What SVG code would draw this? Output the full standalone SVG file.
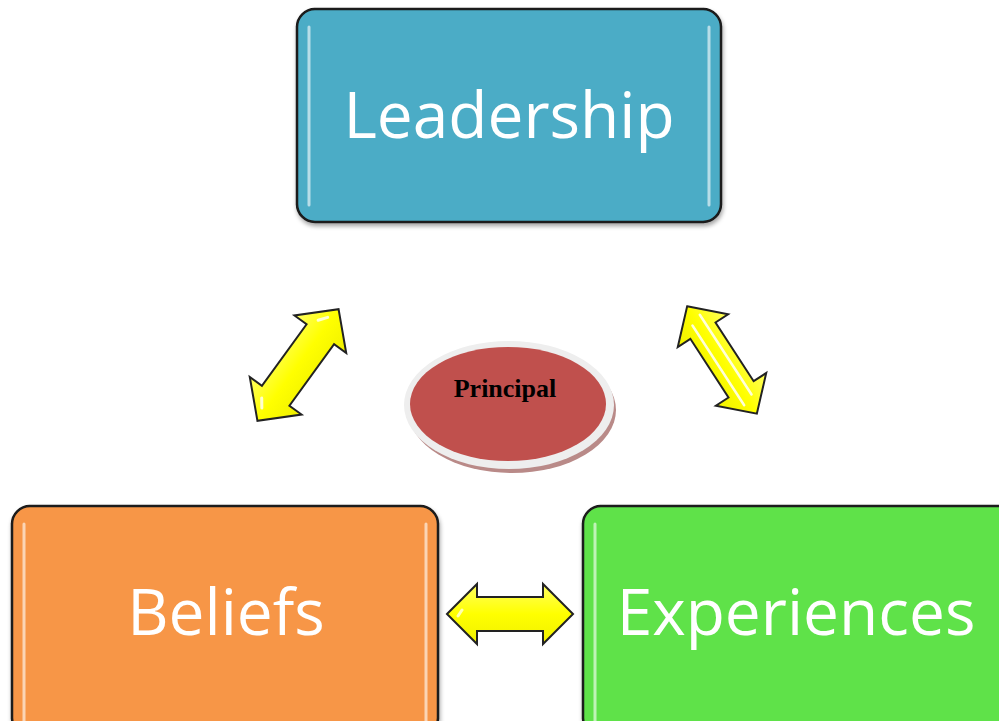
<svg xmlns="http://www.w3.org/2000/svg" width="999" height="721" viewBox="0 0 999 721">
<defs>
<style>
.box{stroke:#1a1a1a;stroke-width:2.5}
.lbl{font-family:"Open Sans","Liberation Sans",sans-serif;fill:#fff;font-size:64px;text-anchor:middle}
.arr{fill:url(#yg);stroke:#222;stroke-width:2;stroke-linejoin:miter}
.hl{stroke:#fff;stroke-width:3;stroke-linecap:round;opacity:0.6}
</style>
<linearGradient id="yg" x1="0" y1="0" x2="0" y2="1">
<stop offset="0" stop-color="#ffff60"/>
<stop offset="0.5" stop-color="#ffff00"/>
<stop offset="1" stop-color="#f0f000"/>
</linearGradient>
<filter id="sh" x="-10%" y="-10%" width="120%" height="130%">
<feDropShadow dx="1" dy="3" stdDeviation="2" flood-color="#000" flood-opacity="0.35"/>
</filter>
</defs>
<rect width="999" height="721" fill="#fff"/>
<g id="leadership">
<rect class="box" x="297" y="9" width="424" height="213" rx="18" fill="#4bacc6" filter="url(#sh)"/>
<line class="hl" x1="309" y1="27" x2="309" y2="205"/>
<line class="hl" x1="709" y1="27" x2="709" y2="205"/>
<text class="lbl" x="509" y="138">Leadership</text>
</g>
<g id="beliefs">
<rect class="box" x="12" y="506" width="426" height="230" rx="18" fill="#f79646" filter="url(#sh)"/>
<line class="hl" x1="24" y1="524" x2="24" y2="721"/>
<line class="hl" x1="426" y1="524" x2="426" y2="721"/>
<text class="lbl" x="226" y="635">Beliefs</text>
</g>
<g id="experiences">
<rect class="box" x="583" y="506" width="440" height="230" rx="18" fill="#5ee24a" filter="url(#sh)"/>
<line class="hl" x1="595" y1="524" x2="595" y2="721"/>
<text class="lbl" x="796" y="635">Experiences</text>
</g>
<g id="principal">
<ellipse cx="512" cy="410" rx="104" ry="63" fill="#b98a88"/>
<ellipse cx="509" cy="405" rx="105" ry="64" fill="#eeeeee"/>
<ellipse cx="508" cy="404" rx="98" ry="57" fill="#c0504d"/>
<text x="505" y="397" font-family="Liberation Serif,serif" font-weight="bold" font-size="26" text-anchor="middle" fill="#000">Principal</text>
</g>
<g id="connectors">
<g transform="translate(298,365) rotate(-54)">
<path class="arr" d="M-69,0 L-38,-32 L-38,-17 L38,-17 L38,-32 L69,0 L38,32 L38,17 L-38,17 L-38,32 Z"/>
<path d="M-56,-4 L-48,-10" stroke="#fff" stroke-width="3" stroke-linecap="round" opacity="0.8"/>
<path d="M48,-10 L56,-4" stroke="#fff" stroke-width="3" stroke-linecap="round" opacity="0.8"/>
</g>
<g transform="translate(722,360) rotate(57)">
<path class="arr" d="M-64,0 L-35,-30 L-35,-15 L35,-15 L35,-30 L64,0 L35,30 L35,15 L-35,15 L-35,30 Z"/>
<line x1="-50" y1="-6" x2="45" y2="-6" stroke="#fff" stroke-width="2.5" stroke-linecap="round" opacity="0.85"/>
<line x1="-45" y1="6" x2="50" y2="6" stroke="#fff" stroke-width="2.5" stroke-linecap="round" opacity="0.85"/>
</g>
<g transform="translate(510,614)">
<path class="arr" d="M-63,0 L-33,-30 L-33,-17 L33,-17 L33,-30 L63,0 L33,30 L33,17 L-33,17 L-33,30 Z"/>
<path d="M-52,2 L-48,-4" stroke="#fff" stroke-width="3" stroke-linecap="round" opacity="0.7"/>
</g>
</g>
</svg>
